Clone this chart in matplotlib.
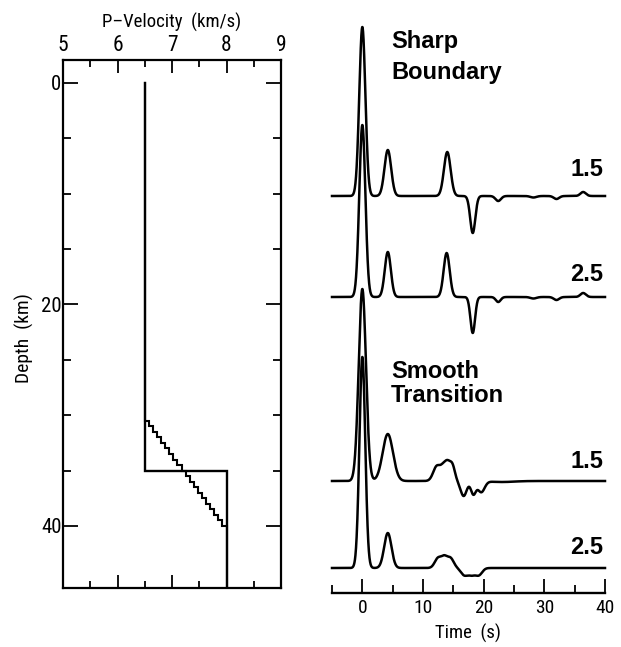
import numpy as np
import matplotlib
matplotlib.use("Agg")
import matplotlib.pyplot as plt
from matplotlib import font_manager as fm
from matplotlib.ticker import FixedLocator

# ---------------- data ----------------
vel_ticks = [5, 6, 7, 8, 9]
vel_minor = [5.5, 6.5, 7.5, 8.5]
depth_major = [0, 20, 40]
depth_minor = [5, 10, 15, 25, 30, 35]

# velocity models: layer tops (km) and layer velocities (km/s)
sharp_layer_top = [0.0, 35.0]
sharp_layer_vel = [6.5, 8.0]
smooth_layer_top = [0.0, 30.5, 31.0, 31.5, 32.0, 32.5, 33.0, 33.5, 34.0, 34.5, 35.0,
                    35.5, 36.0, 36.5, 37.0, 37.5, 38.0, 38.5, 39.0, 39.5, 40.0]
smooth_layer_vel = [6.5, 6.575, 6.65, 6.725, 6.8, 6.875, 6.95, 7.025, 7.1, 7.175, 7.25,
                    7.325, 7.4, 7.475, 7.55, 7.625, 7.7, 7.775, 7.85, 7.925, 8.0]
model_bottom = 46.0

time_major = [0, 10, 20, 30, 40]
time_minor = [-5, 5, 15, 25, 35]

# seismogram pulses: arrival time (s), amplitude (plot units), width (s)
sharp15_t = [0.0, 4.2, 14.0, 18.2, 22.4, 28.2, 32.0, 36.4]
sharp15_a = [169, 46, 44, -37, -5, -1.5, -3, 4]
sharp15_w = [0.5, 0.55, 0.55, 0.42, 0.45, 0.5, 0.45, 0.45]

sharp25_t = [0.0, 4.2, 13.9, 18.2, 22.4, 28.2, 32.0, 36.4]
sharp25_a = [172, 45, 44, -36, -5, -1.5, -3, 4]
sharp25_w = [0.5, 0.5, 0.5, 0.38, 0.4, 0.5, 0.45, 0.45]

smooth15_t = [0.0, 4.2, 12.3, 13.2, 14.0, 14.9, 16.7, 18.3, 19.6, 23.0]
smooth15_a = [192, 47, 15, 6, 19, 12, -15, -13, -11, -1.0]
smooth15_w = [0.6, 0.85, 0.6, 0.4, 0.55, 0.4, 0.5, 0.4, 0.55, 2.0]

smooth25_t = [0.0, 4.2, 12.5, 13.5, 14.5, 16.8, 18.0, 19.2]
smooth25_a = [211, 35, 10, 9, 10, -7, -6.5, -7]
smooth25_w = [0.48, 0.6, 0.55, 0.45, 0.55, 0.55, 0.55, 0.55]

trace_offsets = [397, 296, 112, 25]  # baseline heights of the four traces
trace_labels = ["1.5", "2.5", "1.5", "2.5"]

# ---------------- fonts ----------------
entries = fm.fontManager.ttflist
names = {f.name for f in entries}
narrow_family = None
for cand in ["Liberation Sans Narrow", "Roboto Condensed", "Open Sans Condensed",
             "Noto Sans Condensed", "DejaVu Sans Condensed", "Arial Narrow"]:
    if cand in names:
        narrow_family = cand
        break
if narrow_family is None:
    for f in entries:
        if ("Narrow" in f.name or "Condensed" in f.name) and f.weight in (400, "normal", "regular"):
            narrow_family = f.name
            break
NARROW = dict(family=narrow_family) if narrow_family else dict(family="Liberation Sans")
BOLD = dict(family="Liberation Sans", weight="bold")

W, H = 621, 647
fig = plt.figure(figsize=(W / 100, H / 100), dpi=100)


def fx(px):
    return px / W


def fy(py):
    return 1 - py / H


# ---------------- left panel ----------------
axL = fig.add_axes([fx(63), fy(588), fx(281 - 63), (588 - 60) / H])
axL.set_xlim(5, 9)
axL.set_ylim(45.6, -2.07)


def staircase(tops, vels, bottom):
    xs, ys = [], []
    bounds = list(tops) + [bottom]
    for i, v in enumerate(vels):
        xs += [v, v]
        ys += [bounds[i], bounds[i + 1]]
    return xs, ys


sx, sy = staircase(sharp_layer_top, sharp_layer_vel, model_bottom)
mx, my = staircase(smooth_layer_top, smooth_layer_vel, model_bottom)
axL.plot(sx, sy, color="black", lw=1.7, solid_joinstyle="miter")
axL.plot(mx, my, color="black", lw=1.5, solid_joinstyle="miter")

axL.xaxis.set_major_locator(FixedLocator(vel_ticks))
axL.xaxis.set_minor_locator(FixedLocator(vel_minor))
axL.yaxis.set_major_locator(FixedLocator(depth_major))
axL.yaxis.set_minor_locator(FixedLocator(depth_minor))
axL.tick_params(axis="x", which="both", direction="in", top=True, bottom=True,
                labeltop=True, labelbottom=False, width=1.3)
axL.tick_params(axis="x", which="major", length=9.5, pad=3)
axL.tick_params(axis="x", which="minor", length=5)
axL.tick_params(axis="y", which="both", direction="in", left=True, right=True, width=1.3)
axL.tick_params(axis="y", which="major", length=10.5, pad=1)
axL.tick_params(axis="y", which="minor", length=6)
for lab in axL.get_xticklabels():
    lab.set_fontsize(15.5)
    lab.set(**NARROW)
for lab in axL.get_yticklabels():
    lab.set_fontsize(15)
    lab.set(**NARROW)
for sp in axL.spines.values():
    sp.set_linewidth(1.6)

fig.text(fx(172), fy(22), "P\u2013Velocity  (km/s)", ha="center", va="center",
         fontsize=13.5, **NARROW)
fig.text(fx(24), fy(338), "Depth  (km)", ha="center", va="center", rotation=90,
         fontsize=14, **NARROW)

# ---------------- right panel ----------------
axR = fig.add_axes([fx(332), fy(593), fx(605 - 332), (593 - 5) / H])
axR.set_xlim(-5, 40)
axR.set_ylim(0, 588)

t = np.arange(-5, 40.001, 0.02)


def trace(ts, amps, widths):
    y = np.zeros_like(t)
    for t0, a, w in zip(ts, amps, widths):
        y += a * np.exp(-0.5 * ((t - t0) / w) ** 2)
    return y


traces = [
    trace(sharp15_t, sharp15_a, sharp15_w),
    trace(sharp25_t, sharp25_a, sharp25_w),
    trace(smooth15_t, smooth15_a, smooth15_w),
    trace(smooth25_t, smooth25_a, smooth25_w),
]
for y, off in zip(traces, trace_offsets):
    axR.plot(t, y + off, color="black", lw=1.8, clip_on=False)

for sp in ["left", "right", "top"]:
    axR.spines[sp].set_visible(False)
axR.spines["bottom"].set_linewidth(1.7)
axR.set_yticks([])
axR.xaxis.set_major_locator(FixedLocator(time_major))
axR.xaxis.set_minor_locator(FixedLocator(time_minor))
axR.tick_params(axis="x", which="both", direction="in", width=1.3)
axR.tick_params(axis="x", which="major", length=10, pad=4)
axR.tick_params(axis="x", which="minor", length=5.5)
for lab in axR.get_xticklabels():
    lab.set_fontsize(14)
    lab.set(**NARROW)
fig.text(fx(468), fy(633), "Time  (s)", ha="center", va="center", fontsize=13.5, **NARROW)

# trace labels
label_baselines = [176, 281, 468, 554]
for lab, yb in zip(trace_labels, label_baselines):
    fig.text(fx(603), fy(yb), lab, ha="right", va="baseline", fontsize=17, **BOLD)

fig.text(fx(391), fy(48), "Sharp", ha="left", va="baseline", fontsize=17, **BOLD)
fig.text(fx(391), fy(79), "Boundary", ha="left", va="baseline", fontsize=17, **BOLD)
fig.text(fx(391), fy(378), "Smooth", ha="left", va="baseline", fontsize=17, **BOLD)
fig.text(fx(391), fy(402), "Transition", ha="left", va="baseline", fontsize=17, **BOLD)

fig.savefig("out.png", dpi=100)
